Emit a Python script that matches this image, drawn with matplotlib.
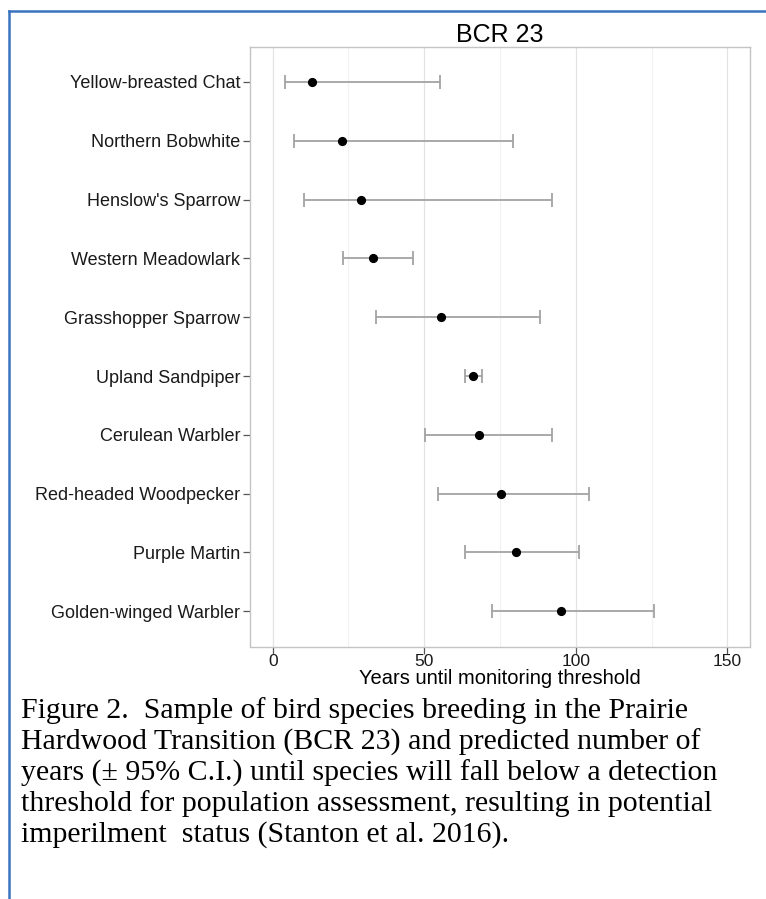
import matplotlib
matplotlib.use("Agg")
import matplotlib.pyplot as plt
from matplotlib.lines import Line2D
import numpy as np

# Species, ordered top to bottom
species = [
    "Yellow-breasted Chat",
    "Northern Bobwhite",
    "Henslow's Sparrow",
    "Western Meadowlark",
    "Grasshopper Sparrow",
    "Upland Sandpiper",
    "Cerulean Warbler",
    "Red-headed Woodpecker",
    "Purple Martin",
    "Golden-winged Warbler",
]
years_est = [13, 23, 29, 33, 55.4, 66, 68, 75.3, 80.2, 95]
ci_low = [4.2, 7.1, 10.2, 23.1, 34.1, 63.3, 50.4, 54.4, 63.3, 72.2]
ci_high = [55.3, 79.2, 92.1, 46.4, 88.1, 69.2, 92.2, 104.3, 101, 125.9]

x_ticks = [0, 50, 100, 150]
x_minor = [25, 75, 125]

title = "BCR 23"
x_label = "Years until monitoring threshold"
caption_lines = [
    "Figure 2.  Sample of bird species breeding in the Prairie",
    "Hardwood Transition (BCR 23) and predicted number of",
    "years (\u00b1 95% C.I.) until species will fall below a detection",
    "threshold for population assessment, resulting in potential",
    "imperilment  status (Stanton et al. 2016).",
]

W, H = 766, 899
fig = plt.figure(figsize=(W / 100, H / 100), dpi=100)
fig.patch.set_facecolor("white")

def fx(px):
    return px / W

def fy(py):
    return 1 - py / H

ax = fig.add_axes([fx(250), fy(646.5), fx(750) - fx(250), (646.5 - 46.7) / H])

n = len(species)
ypos = np.arange(n)[::-1]

est = np.array(years_est)
lo = np.array(ci_low)
hi = np.array(ci_high)

ax.errorbar(est, ypos, xerr=[est - lo, hi - est], fmt="none",
            ecolor="#a3a3a3", elinewidth=1.3, capsize=4.8, capthick=1.3, zorder=2)
ax.plot(est, ypos, "o", color="black", markersize=5.6, zorder=3)

ax.set_xlim(-7.5, 157.5)
ax.set_ylim(-0.6, n - 1 + 0.6)

ax.set_xticks(x_ticks)
ax.set_xticks(x_minor, minor=True)
ax.set_xticklabels([str(t) for t in x_ticks])
ax.set_yticks(ypos)
ax.set_yticklabels(species)

ax.grid(axis="x", which="major", color="#e3e3e3", linewidth=0.9)
ax.grid(axis="x", which="minor", color="#f2f2f2", linewidth=0.9)
ax.set_axisbelow(True)

for sp in ax.spines.values():
    sp.set_color("#c4c4c4")
    sp.set_linewidth(1.0)

ax.tick_params(axis="both", which="major", color="#555555", length=5, width=0.9,
               labelcolor="#1a1a1a")
ax.tick_params(axis="y", labelsize=13, pad=2)
ax.tick_params(axis="x", labelsize=12.5, pad=0.5)
ax.tick_params(axis="x", which="minor", length=0)
for lab in ax.get_xticklabels() + ax.get_yticklabels():
    lab.set_family("Liberation Sans")

ax.set_title(title, fontsize=18, family="Liberation Sans", pad=2, color="black")
ax.set_xlabel(x_label, fontsize=14.5, family="Liberation Sans", labelpad=0, color="black")

# caption below the chart
caption_y = [711, 742, 773, 804, 835]
for line, yy in zip(caption_lines, caption_y):
    fig.text(fx(21), fy(yy), line, family="Liberation Serif", fontsize=21.5,
             ha="left", va="center", color="black")

# blue frame along the left and top edges
frame_col = "#3a73c0"
fig.add_artist(Line2D([fx(9), fx(9)], [0, fy(11)], transform=fig.transFigure,
                      color=frame_col, linewidth=1.8))
fig.add_artist(Line2D([fx(9), 1], [fy(11), fy(11)], transform=fig.transFigure,
                      color=frame_col, linewidth=1.8))

fig.savefig("out.png", dpi=100, facecolor="white")
